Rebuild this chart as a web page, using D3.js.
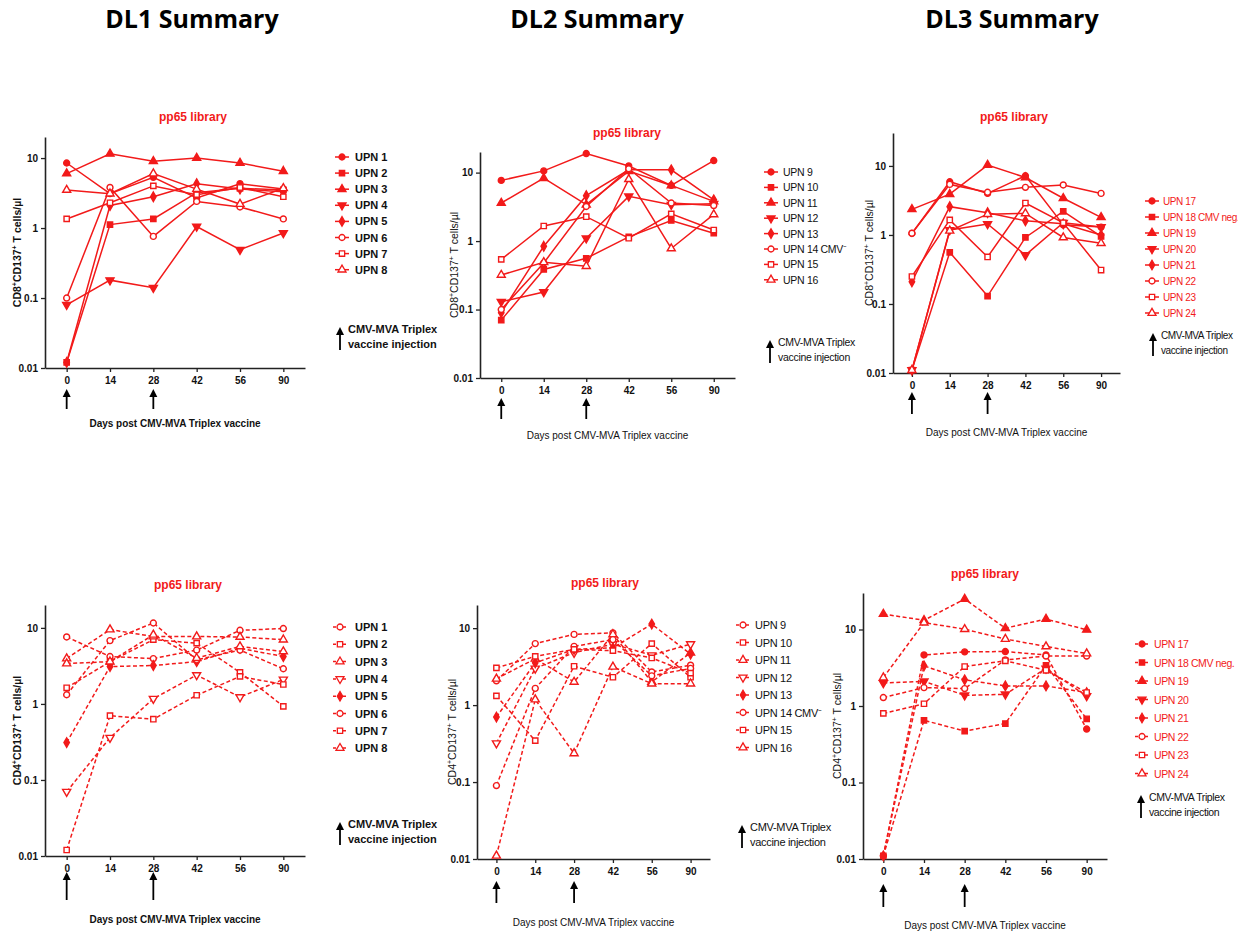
<!DOCTYPE html>
<html>
<head>
<meta charset="utf-8">
<script src="https://cdn.jsdelivr.net/npm/d3@7"></script>
<style>
body { margin: 0; background: #fff; }
text { font-family: "Liberation Sans", Arial, sans-serif; }
</style>
</head>
<body>
<svg id="chart" width="1238" height="934"></svg>
<script>
// categories and tick labels
var days = ["0", "14", "28", "42", "56", "90"];
var yTickVals = [0.01, 0.1, 1, 10];
var vaccineDays = ["0", "28"];

// series names
var dl1Names = ["UPN 1", "UPN 2", "UPN 3", "UPN 4", "UPN 5", "UPN 6", "UPN 7", "UPN 8"];
var dl2NamesTop = ["UPN  9", "UPN 10", "UPN 11", "UPN 12", "UPN 13", "UPN 14 CMV⁻", "UPN 15", "UPN 16"];
var dl2NamesBottom = ["UPN 9", "UPN 10", "UPN 11", "UPN 12", "UPN 13", "UPN 14 CMV⁻", "UPN 15", "UPN 16"];
var dl3Names = ["UPN 17", "UPN 18 CMV neg.", "UPN 19", "UPN 20", "UPN 21", "UPN 22", "UPN 23", "UPN 24"];

// CD8+CD137+ T cells/ul, one row per patient, values at days 0..90
var dl1CD8 = [
  [8.5, 3.1, 5.3, 2.7, 4.3, 3.6],
  [0.012, 1.12, 1.35, 3.2, 3.7, 3.5],
  [6.0, 11.5, 9.0, 10.0, 8.5, 6.5],
  [0.08, 0.18, 0.14, 1.05, 0.49, 0.85],
  [0.012, 2.1, 2.8, 4.3, 3.6, 3.3],
  [0.1, 3.8, 0.76, 2.4, 2.0, 1.35],
  [1.35, 2.3, 4.0, 3.0, 3.8, 2.8],
  [3.5, 3.1, 6.0, 3.6, 2.2, 3.7]
];
var dl2CD8 = [
  [7.7, 10.6, 19, 12.5, 6.5, 15],
  [0.07, 0.385, 0.56, 1.15, 2.0, 1.3],
  [3.6, 8.3, 3.4, 10.5, 6.5, 3.8],
  [0.13, 0.18, 1.1, 4.5, 3.4, 3.5],
  [0.09, 0.84, 4.6, 11, 11, 4.0],
  [0.1, 0.48, 3.2, 11.4, 3.6, 3.3],
  [0.54, 1.66, 2.27, 1.1, 2.5, 1.45],
  [0.32, 0.49, 0.43, 8.0, 0.78, 2.45]
];
var dl3CD8 = [
  [1.05, 5.9, 4.0, 7.2, 1.4, 1.3],
  [0.011, 0.56, 0.13, 0.92, 2.2, 0.95],
  [2.35, 3.9, 10.3, 6.8, 3.4, 1.8],
  [0.011, 1.18, 1.44, 0.51, 1.5, 1.3],
  [0.21, 2.57, 2.1, 1.6, 1.45, 1.0],
  [1.06, 5.4, 4.15, 4.9, 5.3, 4.0],
  [0.25, 1.65, 0.48, 2.9, 1.5, 0.31],
  [0.011, 1.15, 2.0, 2.05, 0.92, 0.76]
];

// CD4+CD137+ T cells/ul
var dl1CD4 = [
  [7.6, 4.2, 3.95, 5.1, 9.3, 9.8],
  [1.63, 3.6, 7.0, 6.3, 2.6, 0.93],
  [3.95, 9.5, 7.7, 7.7, 7.6, 7.0],
  [0.07, 0.36, 1.17, 2.4, 1.23, 2.1],
  [0.31, 3.1, 3.2, 3.6, 5.4, 4.2],
  [1.32, 6.8, 11.6, 3.8, 5.1, 2.9],
  [0.012, 0.7, 0.63, 1.3, 2.3, 1.8],
  [3.4, 3.6, 8.1, 4.0, 5.7, 4.9]
];
var dl2CD4 = [
  [2.07, 6.3, 8.3, 8.7, 2.7, 3.3],
  [1.32, 0.345, 3.2, 2.3, 6.3, 2.3],
  [2.2, 4.0, 2.0, 8.3, 2.0, 4.8],
  [0.32, 3.0, 4.8, 6.2, 4.45, 6.2],
  [0.7, 3.55, 5.3, 5.55, 11.3, 4.6],
  [0.09, 1.65, 5.8, 7.1, 2.4, 3.0],
  [3.05, 4.3, 5.3, 5.1, 4.1, 2.6],
  [0.011, 1.18, 0.236, 3.15, 1.9, 1.9]
];
var dl3CD4 = [
  [0.011, 4.65, 5.1, 5.15, 4.65, 0.5],
  [0.011, 0.65, 0.47, 0.59, 3.4, 0.68],
  [15.9, 13.2, 25, 10.4, 13.7, 9.9],
  [2.0, 2.1, 1.38, 1.42, 3.1, 1.35],
  [0.011, 3.35, 2.2, 1.83, 1.83, 1.5],
  [1.29, 1.74, 1.69, 4.0, 4.5, 4.5],
  [0.8, 1.07, 3.28, 3.9, 2.93, 1.5],
  [2.35, 12.3, 10.1, 7.5, 6.0, 4.85]
];

var red = "#f21a1a";
var svg = d3.select("#chart");

// big headers
var headers = [
  {t: "DL1 Summary", x: 192},
  {t: "DL2 Summary", x: 597},
  {t: "DL3 Summary", x: 1012}
];
svg.selectAll(".hdr").data(headers).enter().append("text")
  .attr("x", function(d) { return d.x; })
  .attr("y", 28)
  .attr("text-anchor", "middle")
  .style("font-family", "'Open Sans', sans-serif")
  .style("font-weight", "700")
  .style("font-size", "25px")
  .text(function(d) { return d.t; });

// marker shapes: filled circle, square, triangle, down triangle, diamond, open circle, square, triangle
var shapeTypes = [d3.symbolCircle, d3.symbolSquare, d3.symbolTriangle, d3.symbolTriangle,
                  d3.symbolDiamond, d3.symbolCircle, d3.symbolSquare, d3.symbolTriangle];
var rotated = [false, false, false, true, false, false, false, false];
var filledTop = [true, true, true, true, true, false, false, false];
var filledOpenCD4 = [false, false, false, false, true, false, false, false];

var panels = [
  {data: dl1CD8, names: dl1Names, cell: "CD8", x0: 45, x1: 305, yTop: 137, yBot: 368, ymax: 20,
   tx: 193, ty: 121, ylx: 21, tickY: 383, aTop: 389, aBot: 409, xly: 427,
   mx: 342, lx: 355, ly0: 157, ldy: 16.1, noteX: 340, noteY: 333, legColor: "#111", legWeight: 700,
   legSize: 11, legSpace: 0, filled: filledTop, dashed: false, bold: true},
  {data: dl2CD8, names: dl2NamesTop, cell: "CD8", x0: 480, x1: 735, yTop: 152, yBot: 378, ymax: 20,
   tx: 627, ty: 137, ylx: 458, tickY: 393, aTop: 398, aBot: 419, xly: 439,
   mx: 771, lx: 783, ly0: 172, ldy: 15.4, noteX: 770, noteY: 346, legColor: "#111", legWeight: 400,
   legSize: 10.5, legSpace: -0.3, filled: filledTop, dashed: false, bold: false},
  {data: dl3CD8, names: dl3Names, cell: "CD8", x0: 893, x1: 1120, yTop: 133, yBot: 373, ymax: 30,
   tx: 1014, ty: 121, ylx: 873, tickY: 387, aTop: 392, aBot: 414, xly: 436,
   mx: 1152, lx: 1163, ly0: 201, ldy: 16, noteX: 1153, noteY: 339, legColor: red, legWeight: 400,
   legSize: 10, legSpace: -0.4, filled: filledTop, dashed: false, bold: false},
  {data: dl1CD4, names: dl1Names, cell: "CD4", x0: 45, x1: 305, yTop: 605, yBot: 856, ymax: 20,
   tx: 188, ty: 589, ylx: 21, tickY: 871, aTop: 872, aBot: 900, xly: 923,
   mx: 340, lx: 355, ly0: 627, ldy: 17.3, noteX: 340, noteY: 828, legColor: "#111", legWeight: 700,
   legSize: 11, legSpace: 0, filled: filledOpenCD4, dashed: true, bold: true},
  {data: dl2CD4, names: dl2NamesBottom, cell: "CD4", x0: 477, x1: 710, yTop: 605, yBot: 859, ymax: 20,
   tx: 605, ty: 587, ylx: 456, tickY: 875, aTop: 881, aBot: 903, xly: 926,
   mx: 743, lx: 755, ly0: 625, ldy: 17.5, noteX: 742, noteY: 831, legColor: "#111", legWeight: 400,
   legSize: 11, legSpace: -0.3, filled: filledOpenCD4, dashed: true, bold: false},
  {data: dl3CD4, names: dl3Names, cell: "CD4", x0: 863, x1: 1107, yTop: 593, yBot: 859, ymax: 30,
   tx: 985, ty: 578, ylx: 841, tickY: 876, aTop: 884, aBot: 907, xly: 929,
   mx: 1142, lx: 1154, ly0: 644, ldy: 18.5, noteX: 1141, noteY: 801, legColor: red, legWeight: 400,
   legSize: 10.5, legSpace: -0.4, filled: filledTop, dashed: true, bold: false}
];

function symbolPath(i) {
  return d3.symbol().type(shapeTypes[i]).size(i == 4 ? 26 : 28)();
}

function drawArrow(g, x, yTop, yBot) {
  g.append("line").attr("x1", x).attr("x2", x).attr("y1", yTop + 6).attr("y2", yBot)
    .attr("stroke", "#000").attr("stroke-width", 1.8);
  g.append("path")
    .attr("d", "M" + x + "," + yTop + "L" + (x - 4) + "," + (yTop + 8) + "L" + (x + 4) + "," + (yTop + 8) + "Z")
    .attr("fill", "#000");
}

panels.forEach(function(p) {
  var g = svg.append("g");
  var x = d3.scalePoint().domain(days).range([p.x0, p.x1]).padding(0.5);
  var y = d3.scaleLog().domain([0.01, p.ymax]).range([p.yBot, p.yTop]);
  var fw = p.bold ? "700" : "400";

  // title
  g.append("text").attr("x", p.tx).attr("y", p.ty).attr("text-anchor", "middle")
    .style("font-size", "12px").style("font-weight", "700").attr("fill", red)
    .text("pp65 library");

  // axes
  var xa = g.append("g").attr("transform", "translate(0," + p.yBot + ")")
    .call(d3.axisBottom(x).tickSize(4).tickSizeOuter(0).tickPadding(5));
  var ya = g.append("g").attr("transform", "translate(" + p.x0 + ",0)")
    .call(d3.axisLeft(y).tickValues(yTickVals).tickFormat(d3.format("~g")).tickSize(4).tickSizeOuter(0));
  [xa, ya].forEach(function(a) {
    a.select(".domain").attr("stroke", "#222").attr("stroke-width", 1.6);
    a.selectAll(".tick line").attr("stroke", "#222").attr("stroke-width", 1.3);
    a.selectAll(".tick text").attr("fill", "#111").style("font-size", "10px").style("font-weight", "700")
      .style("font-family", "'Liberation Sans', Arial, sans-serif");
  });

  // y label
  var ymid = (p.yTop + p.yBot) / 2;
  var yl = g.append("text").attr("transform", "translate(" + p.ylx + "," + ymid + ") rotate(-90)")
    .attr("text-anchor", "middle").style("font-size", "10.5px").style("font-weight", fw).attr("fill", "#111");
  yl.append("tspan").text(p.cell);
  yl.append("tspan").attr("dy", -4).style("font-size", "7px").text("+");
  yl.append("tspan").attr("dy", 4).text("CD137");
  yl.append("tspan").attr("dy", -4).style("font-size", "7px").text("+");
  yl.append("tspan").attr("dy", 4).text(" T cells/µl");

  // x label
  g.append("text").attr("x", (p.x0 + p.x1) / 2).attr("y", p.xly).attr("text-anchor", "middle")
    .style("font-size", "10px").style("font-weight", fw).attr("fill", "#111")
    .text("Days post CMV-MVA Triplex vaccine");

  // vaccine arrows
  vaccineDays.forEach(function(d) { drawArrow(g, x(d), p.aTop, p.aBot); });

  // lines
  var line = d3.line().x(function(d, i) { return x(days[i]); }).y(function(d) { return y(d); });
  g.selectAll(".series").data(p.data).enter().append("path")
    .attr("d", line).attr("fill", "none").attr("stroke", red).attr("stroke-width", 1.5)
    .attr("stroke-dasharray", p.dashed ? "4,2.5" : null);

  // markers
  p.data.forEach(function(s, si) {
    g.selectAll(null).data(s).enter().append("path")
      .attr("d", symbolPath(si))
      .attr("transform", function(d, i) {
        return "translate(" + x(days[i]) + "," + y(d) + ")" + (rotated[si] ? " rotate(180)" : "");
      })
      .attr("fill", p.filled[si] ? red : "#fff")
      .attr("stroke", red).attr("stroke-width", 1.4);
  });

  // legend
  var leg = g.selectAll(".leg").data(p.names).enter().append("g")
    .attr("transform", function(d, i) { return "translate(0," + (p.ly0 + i * p.ldy) + ")"; });
  leg.append("line").attr("x1", p.mx - 7).attr("x2", p.mx + 7).attr("y1", 0).attr("y2", 0)
    .attr("stroke", red).attr("stroke-width", 1.5).attr("stroke-dasharray", p.dashed ? "3,2" : null);
  leg.append("path").attr("d", function(d, i) { return symbolPath(i); })
    .attr("transform", function(d, i) { return "translate(" + p.mx + ",0)" + (rotated[i] ? " rotate(180)" : ""); })
    .attr("fill", function(d, i) { return p.filled[i] ? red : "#fff"; })
    .attr("stroke", red).attr("stroke-width", 1.3);
  leg.append("text").attr("x", p.lx).attr("y", 4)
    .style("font-size", p.legSize + "px").style("letter-spacing", p.legSpace + "px")
    .style("font-weight", p.legWeight).attr("fill", p.legColor)
    .text(function(d) { return d; });

  // vaccine note
  drawArrow(g, p.noteX, p.noteY - 6, p.noteY + 17);
  var nt = g.append("text").attr("x", p.noteX + 8).attr("y", p.noteY)
    .style("font-size", p.legSize + "px").style("letter-spacing", p.legSpace + "px")
    .style("font-weight", p.legWeight).attr("fill", "#111");
  nt.append("tspan").attr("x", p.noteX + 8).attr("dy", 0).text("CMV-MVA Triplex");
  nt.append("tspan").attr("x", p.noteX + 8).attr("dy", 15).text("vaccine injection");
});
</script>
</body>
</html>
